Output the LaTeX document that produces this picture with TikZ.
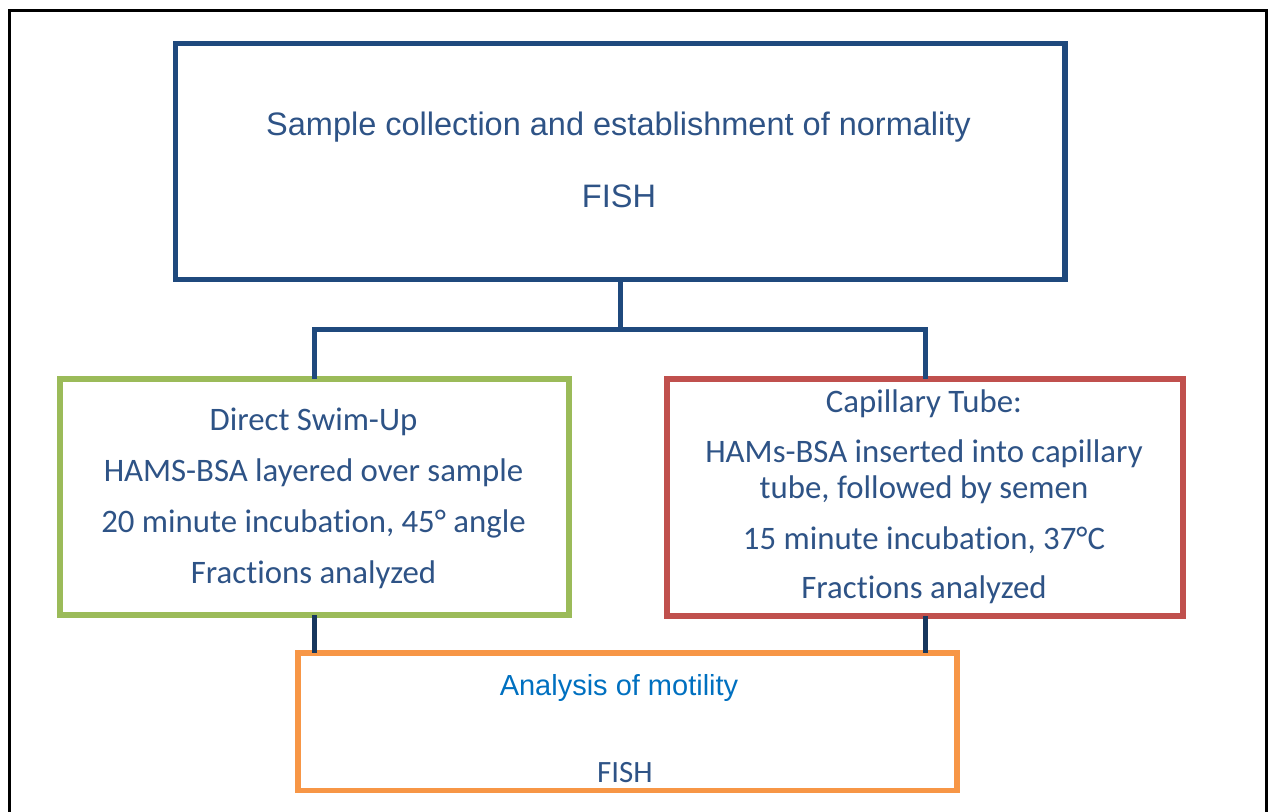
\documentclass[tikz,border=0pt]{standalone}
\usepackage{fontspec}
\newfontfamily\arialf{Liberation Sans}
\newfontfamily\calf[Ligatures=NoCommon]{Carlito}
\definecolor{navy}{HTML}{1F497D}
\definecolor{darknavy}{HTML}{17375E}
\definecolor{boxgreen}{HTML}{9BBB59}
\definecolor{boxred}{HTML}{C0504D}
\definecolor{boxorange}{HTML}{F79646}
\definecolor{txtblue}{HTML}{2E5386}
\definecolor{linkblue}{HTML}{0070C0}
\tikzset{
  box/.style={draw, line width=5.5pt, rectangle, inner sep=0pt, outer sep=0pt},
  conn/.style={draw=navy, line width=5pt, line join=miter},
  shortconn/.style={draw=darknavy, line width=5pt},
  toptxt/.style={anchor=base, inner sep=0pt, text=txtblue, font=\arialf\fontsize{32.5}{36}\selectfont},
  sidetxt/.style={anchor=base, inner sep=0pt, text=txtblue, font=\calf\fontsize{32.8}{36}\selectfont},
}
\begin{document}
\begin{tikzpicture}[x=1pt,y=-1pt]
\useasboundingbox (0,0) rectangle (1268,811);
% outer frame
\draw[line width=2.5pt, black] (9.5,820) -- (9.5,10.5) -- (1266.5,10.5) -- (1266.5,820);
% boxes
\node[box, draw=navy, minimum width=889.5pt, minimum height=236pt] (top) at (620.25,161.5) {};
\node[box, draw=boxgreen, minimum width=509pt, minimum height=236pt] (left) at (314.5,497) {};
\node[box, draw=boxred, minimum width=516pt, minimum height=237pt] (right) at (925,497.5) {};
\node[box, draw=boxorange, minimum width=659pt, minimum height=137.5pt] (bot) at (627.5,721.75) {};
% connectors
\coordinate (j) at (620.25,329);
\draw[conn] (top.south) -- (top.south |- j);
\draw[conn] (left.north) -- (left.north |- j) -- (right.north |- j) -- (right.north);
\draw[shortconn] (left.south) -- (left.south |- bot.north);
\draw[shortconn] (right.south) -- (right.south |- bot.north);
% top text
\node[toptxt] (t1) at (618.5,135) {Sample collection and establishment of normality};
\node[toptxt] (t2) at (619,207) {FISH};
% left text
\node[sidetxt] (l1) at (313.5,430) {Direct Swim-Up};
\node[sidetxt] (l2) at (313.5,481) {HAMS-BSA layered over sample};
\node[sidetxt] (l3) at (313.5,532) {20 minute incubation, 45° angle};
\node[sidetxt] (l4) at (313.5,583) {Fractions analyzed};
% right text
\node[sidetxt] (r1) at (924,412) {Capillary Tube:};
\node[sidetxt] (r2) at (924,462) {HAMs-BSA inserted into capillary};
\node[sidetxt] (r3) at (924,498) {tube, followed by semen};
\node[sidetxt] (r4) at (924,549.5) {15 minute incubation, 37°C};
\node[sidetxt] (r5) at (924,598) {Fractions analyzed};
% bottom text
\node[anchor=base, inner sep=0pt, text=linkblue, font=\arialf\fontsize{29}{33}\selectfont] (b1) at (619,695) {Analysis of motility};
\node[sidetxt, font=\calf\fontsize{31}{35}\selectfont] (b2) at (625,782) {FISH};
\end{tikzpicture}
\end{document}
